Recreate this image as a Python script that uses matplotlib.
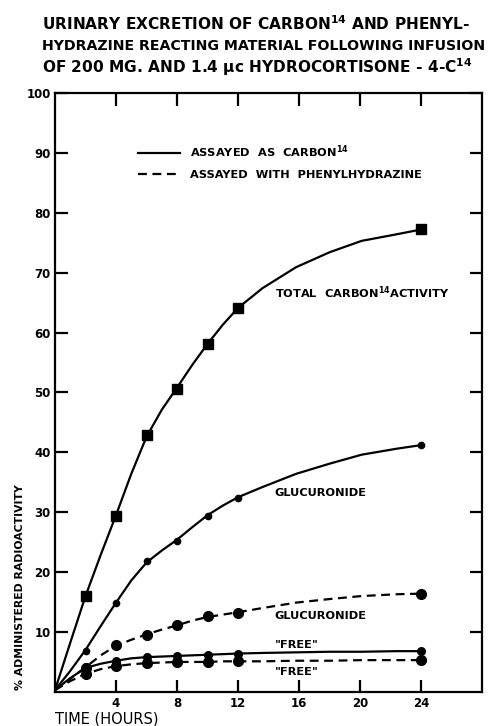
import matplotlib
matplotlib.use('Agg')
import matplotlib.pyplot as plt
from matplotlib.lines import Line2D

plt.rcParams['font.family'] = 'DejaVu Sans'
plt.rcParams['font.weight'] = 'bold'
plt.rcParams['mathtext.default'] = 'bf'

# measured points (hours, % administered radioactivity)
hours = [2, 4, 6, 8, 10, 12, 24]
total_c14 = [16.0, 29.4, 42.9, 50.5, 58.1, 64.1, 77.2]
gluc_c14 = [6.8, 14.8, 21.9, 25.2, 29.4, 32.4, 41.2]
free_c14 = [4.2, 5.2, 5.8, 6.0, 6.2, 6.4, 6.8]
gluc_phz = [4.0, 7.8, 9.5, 11.1, 12.7, 13.2, 16.4]
free_phz = [3.0, 4.3, 4.8, 5.0, 5.0, 5.1, 5.3]

# the drawn curves
curve_x = [0, 1, 2, 3, 4, 5, 6, 7, 8, 9, 10, 11, 12, 13.6, 15.8, 18.0, 20.1, 22.4, 24]
total_curve = [0.3, 8.2, 16.0, 22.9, 29.5, 36.4, 42.6, 47.1, 50.8, 54.6, 58.1, 61.3, 64.1,
               67.4, 70.9, 73.4, 75.3, 76.4, 77.2]
gluc_curve = [0.3, 3.5, 7.0, 11.0, 14.9, 18.6, 21.6, 23.6, 25.4, 27.5, 29.5, 31.1, 32.5,
              34.2, 36.4, 38.1, 39.6, 40.6, 41.2]
free_curve = [0.3, 2.3, 4.0, 4.7, 5.2, 5.6, 5.8, 5.9, 6.0, 6.1, 6.2, 6.3, 6.4,
              6.5, 6.6, 6.7, 6.7, 6.8, 6.8]
gluc_phz_curve = [0.3, 2.2, 4.1, 6.1, 7.7, 8.7, 9.6, 10.4, 11.1, 11.9, 12.5, 12.9, 13.3,
                  14.0, 14.9, 15.5, 16.0, 16.3, 16.4]
free_phz_curve = [0.3, 1.8, 3.0, 3.8, 4.3, 4.6, 4.8, 4.9, 5.0, 5.0, 5.0, 5.1, 5.1,
                  5.1, 5.2, 5.2, 5.3, 5.3, 5.3]

xticks = [4, 8, 12, 16, 20, 24]
yticks = [10, 20, 30, 40, 50, 60, 70, 80, 90, 100]

fig = plt.figure(figsize=(4.91, 7.26), dpi=100)
ax = fig.add_axes([0.112, 0.047, 0.870, 0.825])

lw = 1.6
dash = (0, (4, 2.5))
ax.plot(curve_x, total_curve, 'k-', lw=lw)
ax.plot(curve_x, gluc_curve, 'k-', lw=lw)
ax.plot(curve_x, free_curve, 'k-', lw=lw)
ax.plot(curve_x, gluc_phz_curve, color='k', ls=dash, lw=lw)
ax.plot(curve_x, free_phz_curve, color='k', ls=dash, lw=lw)

ax.plot(hours, total_c14, 'ks', ms=7, ls='none')
ax.plot(hours, gluc_c14, 'ko', ms=4.5, ls='none')
ax.plot(hours, free_c14, 'ko', ms=5.5, ls='none')
ax.plot(hours, gluc_phz, 'ko', ms=7, ls='none')
ax.plot(hours, free_phz, 'ko', ms=7, ls='none')

ax.set_xlim(0, 28)
ax.set_ylim(0, 100)
ax.set_xticks(xticks)
ax.set_yticks(yticks)
ax.tick_params(direction='in', top=True, right=True, length=9, width=1.6,
               labelsize=8.5, pad=4)
ax.tick_params(axis='y', pad=3)
for s in ax.spines.values():
    s.set_linewidth(1.6)

# labels on the curves
lab = dict(fontsize=8.2, fontweight='bold', va='center', ha='left')
ax.text(14.4, 66.6, 'TOTAL  CARBON$^{14}$ACTIVITY', **lab)
ax.text(14.4, 33.2, 'GLUCURONIDE', **lab)
ax.text(14.4, 12.7, 'GLUCURONIDE', **lab)
ax.text(14.4, 7.8, '"FREE"', **lab)
ax.text(14.4, 3.3, '"FREE"', **lab)

# legend
handles = [Line2D([], [], color='k', lw=lw),
           Line2D([], [], color='k', lw=lw, ls=dash)]
ax.legend(handles, ['ASSAYED  AS  CARBON$^{14}$', 'ASSAYED  WITH  PHENYLHYDRAZINE'],
          loc='upper left', bbox_to_anchor=(0.194, 0.915), frameon=False,
          borderpad=0, borderaxespad=0, handlelength=3.7, handletextpad=0.9,
          labelspacing=0.8, prop={'size': 8.2, 'weight': 'bold'})

# title
title_lines = ['URINARY EXCRETION OF CARBON$^{14}$ AND PHENYL-',
               'HYDRAZINE REACTING MATERIAL FOLLOWING INFUSION',
               'OF 200 MG. AND 1.4 μc HYDROCORTISONE - 4-C$^{14}$']
title_sizes = [11.1, 10.2, 11.1]
for i, t in enumerate(title_lines):
    fig.text(0.0855, 1 - (24 + 21.5 * i) / 726, t, fontsize=title_sizes[i],
             fontweight='bold', ha='left', va='center')

fig.text(20 / 491, 1 - 587 / 726, '% ADMINISTERED RADIOACTIVITY', rotation=90,
         fontsize=7.8, fontweight='bold', ha='center', va='center')
fig.text(55 / 491, 1 - 718.5 / 726, 'TIME (HOURS)', fontsize=10.5,
         fontweight='normal', ha='left', va='center')

plt.savefig('out.png', dpi=100)
